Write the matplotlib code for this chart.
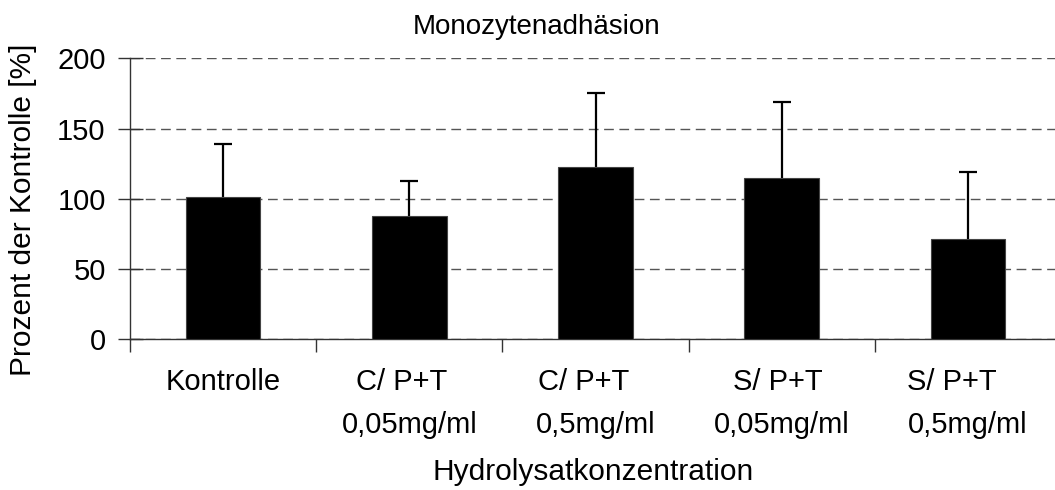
import matplotlib
matplotlib.use('Agg')
import matplotlib.pyplot as plt
import numpy as np

plt.rcParams['font.family'] = ['Liberation Sans', 'DejaVu Sans']

categories = ['Kontrolle', 'C/ P+T  \n0,05mg/ml', 'C/ P+T   \n0,5mg/ml',
              'S/ P+T \n0,05mg/ml', 'S/ P+T    \n0,5mg/ml']
values = [101.5, 88.0, 122.8, 114.6, 71.6]
errors = [37.3, 24.7, 52.3, 54.1, 47.3]
yticks = [0, 50, 100, 150, 200]

fig = plt.figure(figsize=(10.55, 4.9), dpi=100)
ax = fig.add_axes([130/1055, 1 - 339.3/490, 931/1055, 281/490])

x = np.arange(len(categories))
ax.errorbar(x, values, yerr=errors, fmt='none', ecolor='black',
            elinewidth=1.6, capsize=6.5, capthick=1.6, zorder=2)
ax.bar(x, values, width=0.4, color='black', edgecolor='#444444',
       linewidth=0.8, zorder=3)

ax.set_xlim(-0.5, len(categories) - 0.5)
ax.set_ylim(0, 200)
ax.set_yticks(yticks)
ax.yaxis.grid(True, linestyle=(0, (7, 4)), color='#555555', linewidth=1.0, zorder=0)
ax.set_axisbelow(True)

# ticks between categories, labels at centres
ax.set_xticks(np.arange(-0.5, len(categories), 1.0))
ax.set_xticklabels([])
ax.set_xticks(x, minor=True)
ax.set_xticklabels(categories, minor=True, fontsize=21, linespacing=1.65)
ax.tick_params(axis='x', which='major', direction='out', length=9, width=1, color='#333333')
ax.tick_params(axis='x', which='minor', length=0, pad=21)
ax.tick_params(axis='y', direction='inout', length=18, width=1, color='#333333',
               labelsize=21, pad=8.5)

for s in ['top', 'right']:
    ax.spines[s].set_visible(False)
for s in ['left', 'bottom']:
    ax.spines[s].set_color('#333333')
    ax.spines[s].set_linewidth(1)

ax.set_ylabel('Prozent der Kontrolle [%]', fontsize=21.5)
ax.yaxis.set_label_coords(-93/931, 0.46)
fig.text(593/1055, 1 - 472/490, 'Hydrolysatkonzentration', fontsize=21.5,
         ha='center', va='center')
fig.text(537/1055, 1 - 27/490, 'Monozytenadhäsion', fontsize=20,
         ha='center', va='center')

fig.savefig('out.png', dpi=100)
